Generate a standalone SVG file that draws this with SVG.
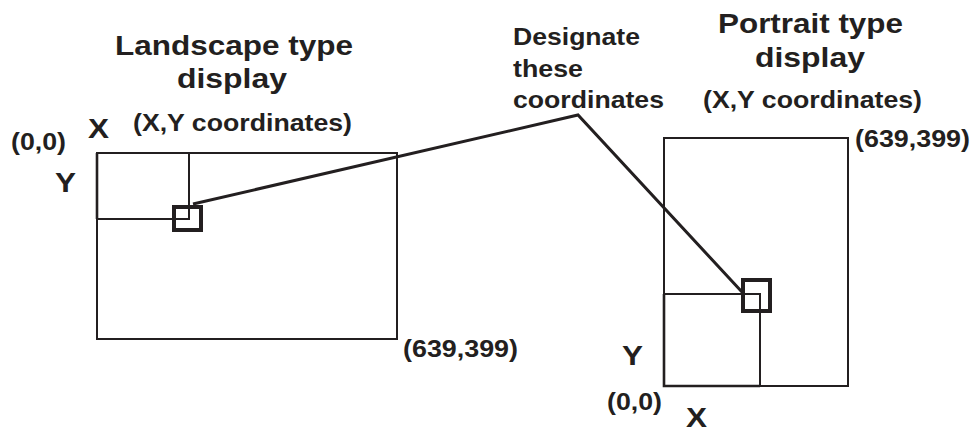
<svg xmlns="http://www.w3.org/2000/svg" width="977" height="432" viewBox="0 0 977 432">
<style>
text{font-family:"Liberation Sans",Arial,sans-serif;font-weight:bold;fill:#231f20}
.t{font-size:28px}
.s{font-size:24px}
.l{font-size:24px}
.xy{font-size:28px}
.thin{fill:none;stroke:#231f20;stroke-width:2}
.mid{fill:none;stroke:#231f20;stroke-width:2.6}
.thick{fill:none;stroke:#231f20;stroke-width:4}
.conn{fill:none;stroke:#231f20;stroke-width:3;stroke-linejoin:miter}
</style>
<rect width="977" height="432" fill="#fff"/>
<g id="landscape">
<text class="t" x="115" y="55" textLength="238" lengthAdjust="spacingAndGlyphs">Landscape type</text>
<text class="t" x="177" y="88" textLength="110" lengthAdjust="spacingAndGlyphs">display</text>
<text class="s" x="133" y="131" textLength="219" lengthAdjust="spacingAndGlyphs">(X,Y coordinates)</text>
<text class="xy" x="88" y="138" textLength="21" lengthAdjust="spacingAndGlyphs">X</text>
<text class="l" x="11" y="150" textLength="55" lengthAdjust="spacingAndGlyphs">(0,0)</text>
<text class="xy" x="55" y="192" textLength="21" lengthAdjust="spacingAndGlyphs">Y</text>
<text class="l" x="403" y="357" textLength="115" lengthAdjust="spacingAndGlyphs">(639,399)</text>
<rect class="thin" x="97" y="153" width="300" height="186"/>
<polyline class="thin" points="189,153 189,219 97,219"/>
<line class="mid" x1="97" y1="153" x2="97" y2="219"/>
<rect class="thick" x="174" y="207" width="27" height="23"/>
</g>
<g id="portrait">
<text class="t" x="718" y="33" textLength="185" lengthAdjust="spacingAndGlyphs">Portrait type</text>
<text class="t" x="755" y="67" textLength="110" lengthAdjust="spacingAndGlyphs">display</text>
<text class="s" x="703" y="108" textLength="219" lengthAdjust="spacingAndGlyphs">(X,Y coordinates)</text>
<text class="l" x="855" y="147" textLength="115" lengthAdjust="spacingAndGlyphs">(639,399)</text>
<text class="xy" x="622" y="365" textLength="21" lengthAdjust="spacingAndGlyphs">Y</text>
<text class="l" x="607" y="410" textLength="55" lengthAdjust="spacingAndGlyphs">(0,0)</text>
<text class="xy" x="686" y="427" textLength="21" lengthAdjust="spacingAndGlyphs">X</text>
<rect class="thin" x="664" y="138" width="184" height="248"/>
<polyline class="thin" points="664,294 760,294 760,386"/>
<polyline class="mid" points="664,294 664,386 760,386"/>
<rect class="thick" x="743" y="280" width="27" height="31"/>
</g>
<g id="label">
<text class="l" x="513" y="45" textLength="127" lengthAdjust="spacingAndGlyphs">Designate</text>
<text class="l" x="513" y="77" textLength="70" lengthAdjust="spacingAndGlyphs">these</text>
<text class="l" x="513" y="108" textLength="151" lengthAdjust="spacingAndGlyphs">coordinates</text>
</g>
<g id="connectors">
<polyline class="conn" points="193,204 578,115 742,292"/>
</g>
</svg>
